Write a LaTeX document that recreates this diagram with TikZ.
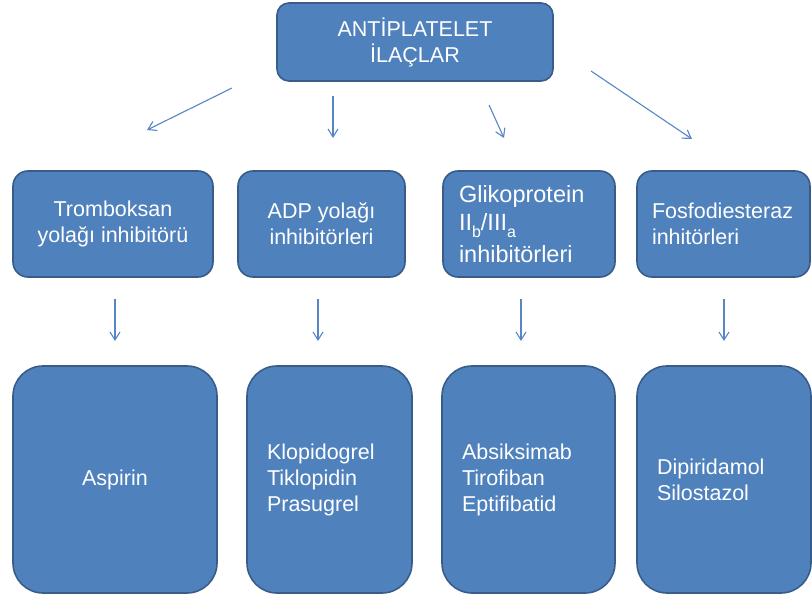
\documentclass[tikz,border=0pt]{standalone}
\usepackage{fontspec}
\setmainfont{Liberation Sans}
\usetikzlibrary{positioning,arrows.meta}
\definecolor{kutumavi}{RGB}{79,129,189}
\definecolor{kenarmavi}{RGB}{56,93,138}
\definecolor{okmavi}{RGB}{86,134,198}

\begin{document}
\begin{tikzpicture}[x=1pt, y=-1pt, line width=1.6pt,
    kutu/.style = {draw=kenarmavi, fill=kutumavi, text=white, align=center,
                   font=\fontsize{21.5pt}{26pt}\selectfont},
    ana/.style = {kutu, rounded corners=12pt, minimum width=276pt, minimum height=78pt},
    grup/.style = {kutu, rounded corners=15pt, minimum height=106pt},
    ilac/.style = {kutu, rounded corners=30pt, minimum height=227pt, inner xsep=20pt},
    okcizgi/.style = {draw=okmavi, line width=1.1pt, -{Straight Barb[length=8pt,width=10pt]}}]
    \path[use as bounding box, fill=white] (0,0) rectangle (812,599);

    % ana kutu
    \node[ana] (antiplatelet) at (415,42) {ANTİPLATELET\\İLAÇLAR};

    % gruplar
    \node[grup, minimum width=200pt] (tromboksan) at (113,224) {Tromboksan\\yolağı inhibitörü};
    \node[grup, minimum width=167pt] (adp) [right=23.4pt of tromboksan.north east, anchor=north west] {ADP yolağı\\inhibitörleri};
    \node[grup, align=left, text width=140pt, inner xsep=16pt] (glikoprotein) [right=36.4pt of adp.north east, anchor=north west]
        {\fontsize{23.5pt}{28pt}\selectfont Glikoprotein\\
         II\raisebox{-7pt}{\fontsize{16pt}{16pt}\selectfont b}/III\raisebox{-7pt}{\fontsize{16pt}{16pt}\selectfont a}\\[6pt]
         inhibitörleri};
    \node[grup, align=left, text width=143pt, inner xsep=15pt] (fosfo) [right=20.4pt of glikoprotein.north east, anchor=north west] {Fosfodiesteraz\\inhitörleri};

    % ilaçlar
    \node[ilac, minimum width=204pt] (aspirin) at (115,479.5) {Aspirin};
    \node[ilac, align=left, text width=125pt] (klopidogrel) [right=28.4pt of aspirin.north east, anchor=north west] {Klopidogrel\\Tiklopidin\\Prasugrel};
    \node[ilac, align=left, text width=133pt] (absiksimab) [right=28.4pt of klopidogrel.north east, anchor=north west] {Absiksimab\\Tirofiban\\Eptifibatid};
    \node[ilac, align=left, text width=134pt] (dipiridamol) [right=20.4pt of absiksimab.north east, anchor=north west] {Dipiridamol\\Silostazol};

    % oklar
    \coordinate (o1a) at (232,88);  \coordinate (o1b) at (147,130);
    \coordinate (o2a) at (333,96);  \coordinate (o2b) at (333,138);
    \coordinate (o3a) at (489,105); \coordinate (o3b) at (504,138);
    \coordinate (o4a) at (591,71);  \coordinate (o4b) at (692,139);
    \draw[okcizgi] (o1a) -- (o1b);
    \draw[okcizgi] (o2a) -- (o2b);
    \draw[okcizgi] (o3a) -- (o3b);
    \draw[okcizgi] (o4a) -- (o4b);

    \coordinate (d1a) at (115,299); \coordinate (d1b) at (115,341);
    \coordinate (d2a) at (318,299); \coordinate (d2b) at (318,341);
    \coordinate (d3a) at (521,299); \coordinate (d3b) at (521,341);
    \coordinate (d4a) at (724,299); \coordinate (d4b) at (724,341);
    \draw[okcizgi] (d1a) -- (d1b);
    \draw[okcizgi] (d2a) -- (d2b);
    \draw[okcizgi] (d3a) -- (d3b);
    \draw[okcizgi] (d4a) -- (d4b);

\end{tikzpicture}
\end{document}
